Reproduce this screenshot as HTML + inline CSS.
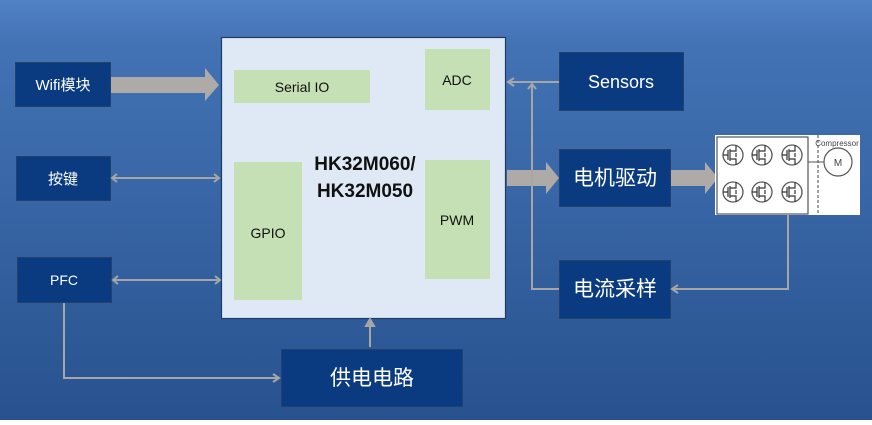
<!DOCTYPE html>
<html><head><meta charset="utf-8"><style>
html,body{margin:0;padding:0;}
body{width:872px;height:420px;overflow:hidden;}
svg text{font-family:"Liberation Sans","Noto Sans CJK SC",sans-serif;}
</style></head><body>
<svg width="872" height="420" viewBox="0 0 872 420" xmlns="http://www.w3.org/2000/svg">
<defs>
<linearGradient id="bg" x1="0" y1="0" x2="0" y2="1">
<stop offset="0" stop-color="#5182c6"/>
<stop offset="0.1" stop-color="#4373b5"/>
<stop offset="1" stop-color="#28528f"/>
</linearGradient>
<g id="fet"><circle cx="0" cy="0" r="10" fill="none" stroke="#555" stroke-width="1.3"/><path d="M-5,-5 v10 M-3,-6 v12 M-3,-4 h6 v-6 M-3,4 h6 v6 M3,-2 v4 M-10,0 h5" fill="none" stroke="#333" stroke-width="1.2"/></g>
</defs>
<rect width="872" height="420" fill="url(#bg)"/>

<!-- MCU -->
<rect x="221.5" y="37.5" width="284" height="281" fill="#dee9f5" stroke="#1f3a63" stroke-width="1.2"/>
<rect x="234" y="70" width="136" height="33" fill="#c5e0b4"/>
<text x="302" y="92" font-size="14" text-anchor="middle" fill="#111">Serial IO</text>
<rect x="425" y="49" width="65" height="61" fill="#c5e0b4"/>
<text x="457" y="85" font-size="14" text-anchor="middle" fill="#111">ADC</text>
<rect x="234" y="162" width="68" height="138" fill="#c5e0b4"/>
<text x="268" y="238" font-size="14" text-anchor="middle" fill="#111">GPIO</text>
<rect x="425" y="160" width="65" height="119" fill="#c5e0b4"/>
<text x="457" y="225" font-size="14" text-anchor="middle" fill="#111">PWM</text>
<text x="365" y="170" font-size="19" font-weight="bold" text-anchor="middle" fill="#111">HK32M060/</text>
<text x="365" y="197" font-size="19" font-weight="bold" text-anchor="middle" fill="#111">HK32M050</text>

<!-- left boxes -->
<g fill="#0a3a80" stroke="#23416b" stroke-width="1">
<rect x="15.5" y="62.5" width="95" height="44"/>
<rect x="16.5" y="156.5" width="94" height="44"/>
<rect x="17.5" y="257.5" width="94" height="45"/>
<rect x="559.5" y="52.5" width="124" height="58"/>
<rect x="559.5" y="149.5" width="111" height="57"/>
<rect x="559.5" y="260.5" width="111" height="58"/>
<rect x="281.5" y="349.5" width="181" height="57"/>
</g>
<g fill="#fff" text-anchor="middle">
<text x="63" y="90" font-size="15">Wifi模块</text>
<text x="63" y="184" font-size="15">按键</text>
<text x="64" y="285" font-size="14">PFC</text>
<text x="621" y="88" font-size="18">Sensors</text>
<text x="615" y="185" font-size="21">电机驱动</text>
<text x="615" y="296" font-size="21">电流采样</text>
<text x="372" y="385" font-size="21">供电电路</text>
</g>

<!-- big arrows -->
<g fill="#aeaaa7">
<polygon points="111,77 205,77 205,68 219,85 205,101 205,93 111,93"/>
<polygon points="507,170 546,170 546,162 559,178 546,194 546,186 507,186"/>
<polygon points="671,170 705,170 705,162 718,178 705,194 705,186 671,186"/>
</g>

<!-- thin lines -->
<g stroke="#a6a6a6" stroke-width="2" fill="none">
<path d="M112,178 H219"/><path d="M117,174 L112,178 L117,182"/><path d="M214,174 L219,178 L214,182"/>
<path d="M113,280 H220"/><path d="M118,276 L113,280 L118,284"/><path d="M215,276 L220,280 L215,284"/>
<path d="M64,303 V378 H279"/><path d="M273,374 L279,378 L273,382"/>
<path d="M370,347 V320"/><path d="M366,326 L370,319 L374,326 Z" fill="#a6a6a6"/>
<path d="M559,82 H508"/><path d="M514,78 L508,82 L514,86"/>
<path d="M559,289 H532 V84"/><path d="M528,89 L532,84 L536,89"/>
<path d="M788,215 V289 H672"/><path d="M678,285 L672,289 L678,293"/>
</g>

<!-- inverter image -->
<rect x="715" y="135" width="145" height="80" fill="#fff"/>
<rect x="717" y="137" width="91" height="77" fill="none" stroke="#555" stroke-width="1.2"/>
<line x1="818" y1="135" x2="818" y2="215" stroke="#444" stroke-dasharray="3,2" stroke-width="1"/>
<line x1="808" y1="162" x2="824" y2="162" stroke="#555"/>
<circle cx="838" cy="162" r="14" fill="none" stroke="#555" stroke-width="1.2"/>
<text x="838" y="166" font-size="10" text-anchor="middle" fill="#444">M</text>
<text x="837" y="146" font-size="8" text-anchor="middle" fill="#444">Compressor</text>
<use href="#fet" x="733" y="155"/><use href="#fet" x="762" y="155"/><use href="#fet" x="792" y="155"/>
<use href="#fet" x="733" y="192"/><use href="#fet" x="762" y="192"/><use href="#fet" x="792" y="192"/>
</svg>
</body></html>
